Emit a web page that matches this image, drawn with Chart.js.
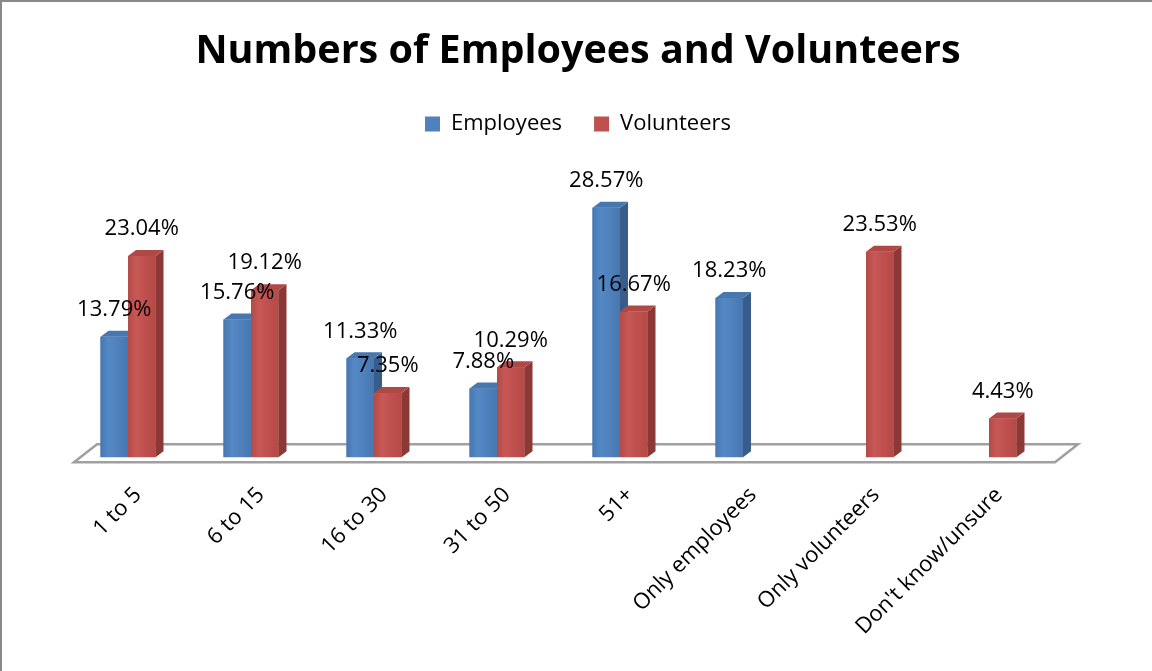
<!DOCTYPE html>
<html><head><meta charset="utf-8">
<script src="https://cdn.jsdelivr.net/npm/chart.js@4/dist/chart.umd.min.js"></script>
<style>html,body{margin:0;padding:0;background:#fff;overflow:hidden}#wrap{position:relative;width:1152px;height:671px}canvas{display:block}</style>
</head><body><div id="wrap"><canvas id="c" width="1152" height="671"></canvas></div>
<script>
const categories = ['1 to 5', '6 to 15', '16 to 30', '31 to 50', '51+', 'Only employees', 'Only volunteers', "Don't know/unsure"];
const employees = [13.79, 15.76, 11.33, 7.88, 28.57, 18.23, null, null];
const volunteers = [23.04, 19.12, 7.35, 10.29, 16.67, null, 23.53, 4.43];
const seriesNames = ['Employees', 'Volunteers'];
const chartTitle = 'Numbers of Employees and Volunteers';

const FONT = '"Open Sans", Lato, sans-serif';
const faces = [
  {front: '#4f81bd', light: '#5489c6', dark: '#4877b0', side: '#385d8a', top: '#4877b0'},
  {front: '#c0504d', light: '#c85855', dark: '#b44a47', side: '#8b3836', top: '#b04946'}
];
const DX = 8, DY = 6;

const bars3d = {
  id: 'bars3d',
  beforeDatasetsDraw(chart) {
    const ctx = chart.ctx, y0 = chart.scales.y.getPixelForValue(0);
    const L = chart.chartArea.left, R = chart.chartArea.right;
    ctx.save();
    ctx.beginPath();
    ctx.moveTo(L + 7.5, y0 + 5);
    ctx.lineTo(R + 4.5, y0 + 5);
    ctx.lineTo(R + 27.5, y0 - 13);
    ctx.lineTo(L + 30.5, y0 - 13);
    ctx.closePath();
    ctx.fillStyle = '#ffffff';
    ctx.fill();
    ctx.strokeStyle = '#a0a0a0';
    ctx.lineWidth = 2.5;
    ctx.stroke();
    ctx.restore();
  },
  afterDatasetsDraw(chart) {
    const ctx = chart.ctx;
    ctx.save();
    chart.data.datasets.forEach((ds, di) => {
      const meta = chart.getDatasetMeta(di);
      const f = faces[di];
      meta.data.forEach((bar, i) => {
        if (ds.data[i] == null) return;
        const {x, y, base, width} = bar.getProps(['x', 'y', 'base', 'width'], true);
        const l = x - width / 2, r = x + width / 2;
        const g = ctx.createLinearGradient(l, 0, r, 0);
        g.addColorStop(0, f.dark);
        g.addColorStop(0.3, f.light);
        g.addColorStop(0.6, f.front);
        g.addColorStop(1, f.dark);
        ctx.fillStyle = g;
        ctx.fillRect(l, y, width, base - y);
        ctx.fillStyle = f.side;
        ctx.beginPath();
        ctx.moveTo(r, y); ctx.lineTo(r + DX, y - DY); ctx.lineTo(r + DX, base - DY); ctx.lineTo(r, base);
        ctx.closePath(); ctx.fill();
        ctx.fillStyle = f.top;
        ctx.beginPath();
        ctx.moveTo(l, y); ctx.lineTo(l + DX, y - DY); ctx.lineTo(r + DX, y - DY); ctx.lineTo(r, y);
        ctx.closePath(); ctx.fill();
      });
    });
    ctx.fillStyle = '#000';
    ctx.font = '22px ' + FONT;
    ctx.textAlign = 'center';
    ctx.textBaseline = 'middle';
    chart.data.datasets.forEach((ds, di) => {
      const meta = chart.getDatasetMeta(di);
      meta.data.forEach((bar, i) => {
        const v = ds.data[i];
        if (v == null) return;
        ctx.fillText(v.toFixed(2) + '%', bar.x, bar.y - 27);
      });
    });
    ctx.restore();
  },
  afterDraw(chart) {
    const ctx = chart.ctx;
    ctx.save();
    ctx.strokeStyle = '#898989';
    ctx.lineWidth = 2;
    ctx.beginPath();
    ctx.moveTo(1, chart.height); ctx.lineTo(1, 1); ctx.lineTo(chart.width, 1);
    ctx.stroke();
    ctx.restore();
  }
};

new Chart(document.getElementById('c'), {
  type: 'bar',
  data: {
    labels: categories,
    datasets: [
      {label: seriesNames[0], data: employees, backgroundColor: faces[0].front},
      {label: seriesNames[1], data: volunteers, backgroundColor: faces[1].front}
    ]
  },
  options: {
    responsive: false,
    animation: false,
    devicePixelRatio: 1,
    categoryPercentage: 0.447,
    barPercentage: 1,
    layout: {padding: {top: 0, left: 4, right: 0, bottom: 6}},
    plugins: {
      title: {display: true, text: chartTitle, color: '#000', font: {family: FONT, size: 39.5, weight: 'bold'}, padding: {top: 28.5, bottom: 5.1}},
      legend: {
        display: true,
        labels: {color: '#000', font: {family: FONT, size: 22}, boxWidth: 15, boxHeight: 15, padding: 32}
      },
      tooltip: {enabled: false}
    },
    scales: {
      x: {
        grid: {display: false, drawTicks: false},
        border: {display: false},
        ticks: {color: '#000', font: {family: FONT, size: 22}, minRotation: 45, maxRotation: 45, padding: 25, labelOffset: 10, autoSkip: false}
      },
      y: {
        display: true, position: 'left', min: 0, max: 35.75,
        grid: {display: false}, border: {display: false}, ticks: {display: false},
        afterFit(scale) { scale.width = 62.5; }
      },
      yRight: {
        type: 'linear', display: true, position: 'right',
        grid: {display: false}, border: {display: false}, ticks: {display: false},
        afterFit(scale) { scale.width = 101.5; }
      }
    }
  },
  plugins: [bars3d]
});
</script>
</body></html>
